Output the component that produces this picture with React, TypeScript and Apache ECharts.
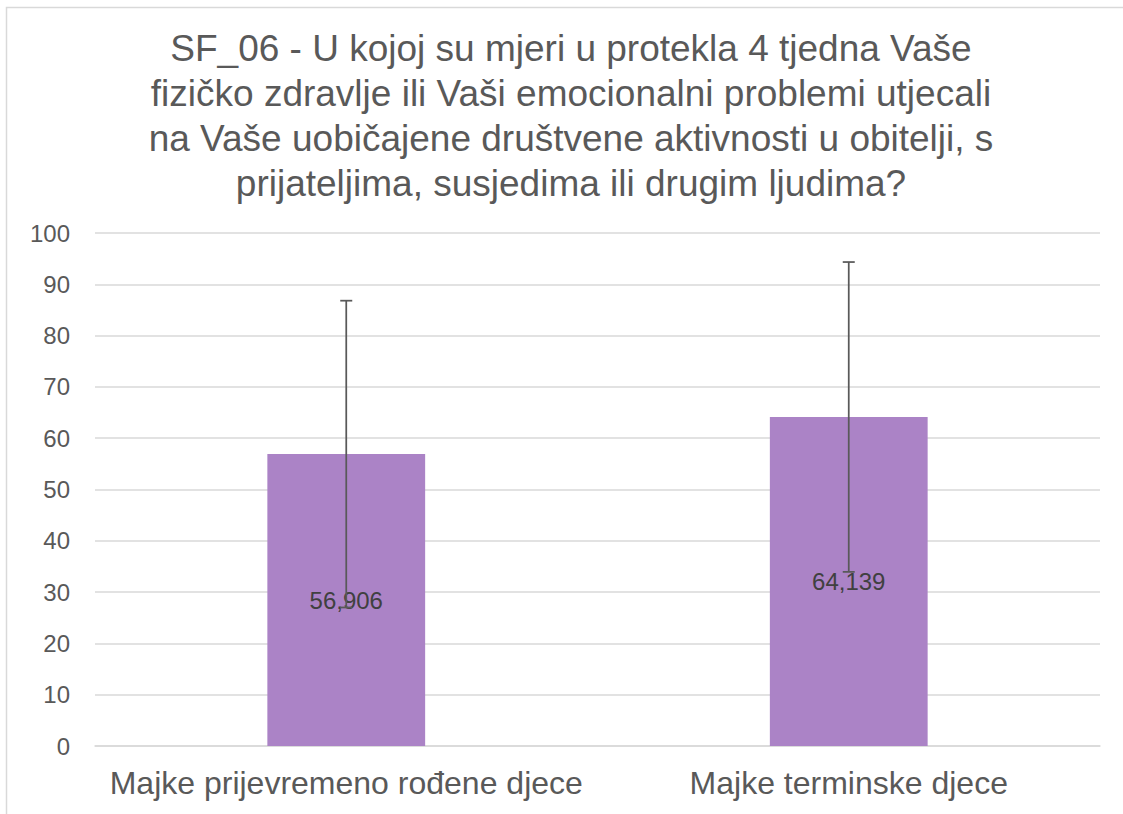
import React, { useEffect, useRef } from "react";
import * as echarts from "echarts";

const titleLines = [
  "SF_06 - U kojoj su mjeri u protekla 4 tjedna Vaše",
  "fizičko zdravlje ili Vaši emocionalni problemi utjecali",
  "na Vaše uobičajene društvene aktivnosti u obitelji, s",
  "prijateljima, susjedima ili drugim ljudima?",
];
const categories = ["Majke prijevremeno rođene djece", "Majke terminske djece"];
const means = [56.906, 64.139];
const sds = [29.9, 30.2];
const yTicks = { min: 0, max: 100, interval: 10 };

export default function App() {
  const ref = useRef<HTMLDivElement>(null);
  useEffect(() => {
    if (!ref.current) return;
    const chart = echarts.init(ref.current, null, { renderer: "svg" });
    const font = "'Liberation Sans', Arial, sans-serif";
    chart.setOption({
      animation: false,
      backgroundColor: "#ffffff",
      textStyle: { fontFamily: font },
      graphic: [
        {
          type: "rect",
          shape: { x: 6.5, y: 7.5, width: 1300, height: 1000 },
          style: { fill: "none", stroke: "#d9d9d9", lineWidth: 1.5 },
          silent: true,
        },
        {
          type: "text",
          x: 571,
          y: 25.5,
          silent: true,
          style: {
            text: titleLines.join("\n"),
            fontFamily: font,
            fontSize: 37,
            fill: "#595959",
            lineHeight: 45,
            align: "center",
            verticalAlign: "top",
          },
        },
      ],
      grid: { left: 95, right: 23, top: 233, bottom: 68, containLabel: false },
      xAxis: {
        type: "category",
        data: categories,
        axisLine: { show: true, lineStyle: { color: "#d9d9d9", width: 1.5 } },
        axisTick: { show: false },
        axisLabel: { color: "#595959", fontSize: 32, fontFamily: font, margin: 21, interval: 0 },
      },
      yAxis: {
        type: "value",
        min: yTicks.min,
        max: yTicks.max,
        interval: yTicks.interval,
        axisLine: { show: false },
        axisTick: { show: false },
        splitLine: { lineStyle: { color: "#d9d9d9", width: 1.5 } },
        axisLabel: { color: "#595959", fontSize: 24, fontFamily: font, margin: 25 },
      },
      series: [
        {
          type: "bar",
          data: means,
          barWidth: "31.4%",
          itemStyle: { color: "#ab83c6" },
          label: {
            show: true,
            position: "inside",
            color: "#404040",
            fontSize: 24,
            fontFamily: font,
            formatter: (p: any) => p.value.toFixed(3).replace(".", ","),
          },
          z: 2,
        },
        {
          type: "custom",
          data: means.map((m, i) => [i, m - sds[i], m + sds[i]]),
          z: 5,
          renderItem: (params: any, api: any) => {
            const x = api.value(0);
            const lo = api.coord([x, api.value(1)]);
            const hi = api.coord([x, api.value(2)]);
            const half = 6;
            const style = { stroke: "#595959", lineWidth: 1.75 };
            return {
              type: "group",
              children: [
                { type: "line", shape: { x1: hi[0], y1: hi[1], x2: lo[0], y2: lo[1] }, style },
                { type: "line", shape: { x1: hi[0] - half, y1: hi[1], x2: hi[0] + half, y2: hi[1] }, style },
                { type: "line", shape: { x1: lo[0] - half, y1: lo[1], x2: lo[0] + half, y2: lo[1] }, style },
              ],
            };
          },
        },
      ],
    });
    return () => chart.dispose();
  }, []);
  return (
    <div
      ref={ref}
      style={{ position: "fixed", left: 0, top: 0, width: 1123, height: 814 }}
    />
  );
}
